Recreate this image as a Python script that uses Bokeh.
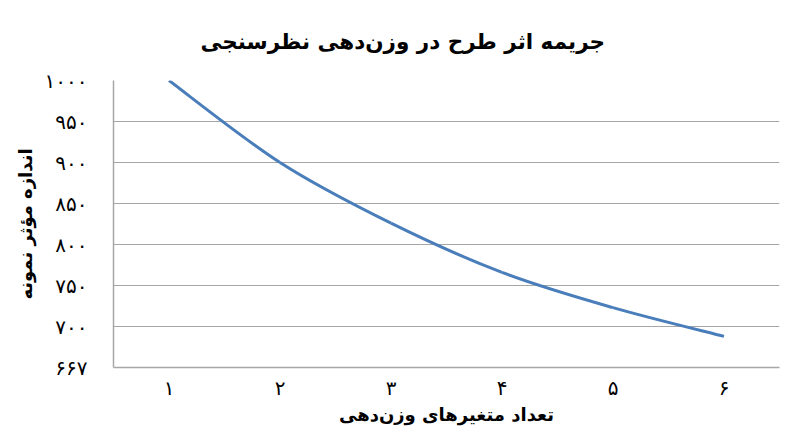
from bokeh.plotting import figure
from bokeh.models import Range1d, FixedTicker, Title
from bokeh.embed import file_html
from bokeh.resources import INLINE

# ---- data ----
num_vars = [1, 2, 3, 4, 5, 6]
eff_size = [1000, 900, 826, 766, 723, 688]

x_ticks = [1, 2, 3, 4, 5, 6]
x_tick_labels = ["۱", "۲", "۳", "۴", "۵", "۶"]
y_ticks = [650, 700, 750, 800, 850, 900, 950, 1000]
y_tick_labels = ["۶۶۷", "۷۰۰", "۷۵۰", "۸۰۰", "۸۵۰", "۹۰۰", "۹۵۰", "۱۰۰۰"]

title_text = "جریمه اثر طرح در وزن\u200cدهی نظرسنجی"
x_label = "تعداد متغیرهای وزن\u200cدهی"
y_label = "اندازه مؤثر نمونه"

FONT = "DejaVu Sans"

p = figure(width=784, height=431, output_backend="svg", toolbar_location=None,
           x_range=Range1d(0.5, 6.5), y_range=Range1d(650, 1000),
           min_border_left=113, min_border_right=5, min_border_top=80,
           min_border_bottom=64, background_fill_color="white",
           border_fill_color="white")
p.outline_line_color = None

# title (left-aligned with offset so it sits centred on the whole chart)
t = Title(text=title_text, align="left", text_font=FONT, text_font_size="21.5px",
          text_font_style="bold", text_color="black", standoff=53, offset=87)
p.add_layout(t, "above")

# smooth line (Catmull-Rom style Bezier from the data points)
n = len(num_vars)
x0s, y0s, x1s, y1s, cx0s, cy0s, cx1s, cy1s = [], [], [], [], [], [], [], []
for i in range(n - 1):
    pa = (num_vars[max(i - 1, 0)], eff_size[max(i - 1, 0)])
    pb = (num_vars[i], eff_size[i])
    pc = (num_vars[i + 1], eff_size[i + 1])
    pd = (num_vars[min(i + 2, n - 1)], eff_size[min(i + 2, n - 1)])
    x0s.append(pb[0]); y0s.append(pb[1])
    x1s.append(pc[0]); y1s.append(pc[1])
    cx0s.append(pb[0] + (pc[0] - pa[0]) / 6); cy0s.append(pb[1] + (pc[1] - pa[1]) / 6)
    cx1s.append(pc[0] - (pd[0] - pb[0]) / 6); cy1s.append(pc[1] - (pd[1] - pb[1]) / 6)
p.bezier(x0=x0s, y0=y0s, x1=x1s, y1=y1s, cx0=cx0s, cy0=cy0s, cx1=cx1s, cy1=cy1s,
         line_color="#4a7ebb", line_width=3)

# axes
p.xaxis.ticker = FixedTicker(ticks=x_ticks)
p.xaxis.major_label_overrides = {k: v for k, v in zip(x_ticks, x_tick_labels)}
p.yaxis.ticker = FixedTicker(ticks=y_ticks)
p.yaxis.major_label_overrides = {k: v for k, v in zip(y_ticks, y_tick_labels)}
for ax in (p.xaxis[0], p.yaxis[0]):
    ax.axis_line_color = "#a6a6a6"
    ax.axis_line_width = 1.5
    ax.major_tick_line_color = None
    ax.minor_tick_line_color = None
    ax.major_label_text_font = FONT
    ax.major_label_text_font_size = "20px"
    ax.major_label_text_color = "black"
p.xaxis.major_label_standoff = 2
p.yaxis.major_label_standoff = 20

p.xaxis.axis_label = x_label
p.yaxis.axis_label = y_label
for ax in (p.xaxis[0], p.yaxis[0]):
    ax.axis_label_text_font = FONT
    ax.axis_label_text_font_size = "18px"
    ax.axis_label_text_font_style = "bold"
    ax.axis_label_text_color = "black"
p.xaxis.axis_label_standoff = 1
p.yaxis.axis_label_standoff = 6

p.xgrid.visible = False
p.ygrid.ticker = FixedTicker(ticks=y_ticks)
p.ygrid.grid_line_color = "#a6a6a6"
p.ygrid.grid_line_width = 1

open("out.html", "w").write(file_html(p, INLINE))
